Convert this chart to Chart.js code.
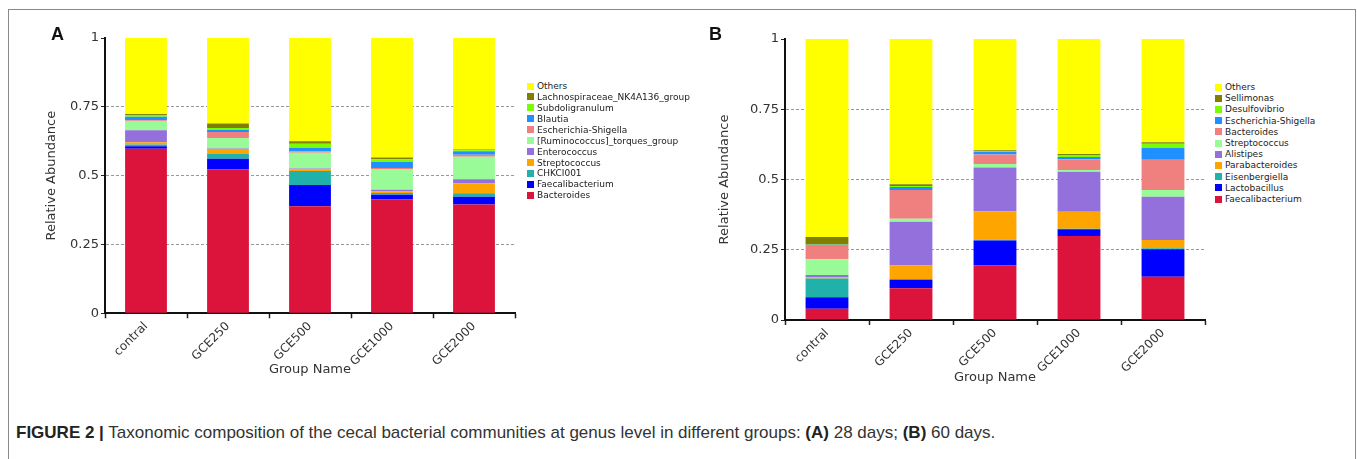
<!DOCTYPE html>
<html>
<head>
<meta charset="utf-8">
<script src="https://cdn.jsdelivr.net/npm/chart.js@4.4.1/dist/chart.umd.min.js"></script>
<style>
  body { margin: 0; background: #fff; width: 1357px; height: 459px; overflow: hidden; position: relative; font-family: 'DejaVu Sans', sans-serif; }
  #frame { position: absolute; left: 8px; top: 9px; width: 1346px; height: 470px; border: 1px solid #8a8a8a; }
  canvas { position: absolute; }
  .tag { position: absolute; font: bold 18px 'Liberation Sans', Arial, sans-serif; color: #111; }
  .legend { position: absolute; font-size: 9px; color: #222; }
  .legend div { position: absolute; left: 0; white-space: nowrap; height: 12px; line-height: 12px; }
  .legend span { display: inline-block; width: 7px; height: 7px; margin-right: 3px; vertical-align: -0.5px; }
  #caption { position: absolute; left: 16px; top: 423px; font: 17px 'Liberation Sans', Arial, sans-serif; color: #333; line-height: 20px; white-space: nowrap; }
  #caption b { color: #222; }
</style>
</head>
<body>
<div id="frame"></div>
<canvas id="chartA" width="520" height="400" style="left:0;top:0"></canvas>
<canvas id="chartB" width="530" height="400" style="left:680px;top:0"></canvas>
<div class="tag" style="left:51px;top:24px">A</div>
<div class="tag" style="left:709px;top:24px">B</div>
<div class="legend" id="legA" style="left:527px;top:80px"></div>
<div class="legend" id="legB" style="left:1215px;top:81px"></div>
<div id="caption"><b>FIGURE 2 |</b> Taxonomic composition of the cecal bacterial communities at genus level in different groups: <b>(A)</b> 28 days; <b>(B)</b> 60 days.</div>
<script>
// Groups and axis labels
const groups = ['contral', 'GCE250', 'GCE500', 'GCE1000', 'GCE2000'];
const yTickLabels = ['0', '0.25', '0.5', '0.75', '1'];

// Colours, bottom of stack to top
const palette = ['#DC143C', '#0000FF', '#20B2AA', '#FFA500', '#9370DB', '#98FB98',
                 '#F08080', '#1E90FF', '#7CFC00', '#808000', '#FFFF00'];

// Panel A (28 days), bottom to top
const taxaA = ['Bacteroides', 'Faecalibacterium', 'CHKCI001', 'Streptococcus', 'Enterococcus',
               '[Ruminococcus]_torques_group', 'Escherichia-Shigella', 'Blautia', 'Subdoligranulum',
               'Lachnospiraceae_NK4A136_group', 'Others'];
const bacteroidesA      = [0.598, 0.522, 0.389, 0.413, 0.395];
const faecalibacteriumA = [0.009, 0.039, 0.077, 0.018, 0.028];
const chkci001A         = [0.006, 0.018, 0.051, 0.006, 0.013];
const streptococcusA    = [0.008, 0.018, 0.005, 0.006, 0.036];
const enterococcusA     = [0.044, 0.002, 0.004, 0.006, 0.015];
const ruminococcusA     = [0.032, 0.038, 0.057, 0.073, 0.082];
const escherichiaA      = [0.004, 0.022, 0.006, 0.006, 0.007];
const blautiaA          = [0.013, 0.008, 0.012, 0.022, 0.013];
const subdoligranulumA  = [0.006, 0.006, 0.015, 0.010, 0.003];
const lachnospiraceaeA  = [0.004, 0.016, 0.009, 0.006, 0.003];
const othersA           = [0.276, 0.311, 0.375, 0.434, 0.405];

// Panel B (60 days), bottom to top
const taxaB = ['Faecalibacterium', 'Lactobacillus', 'Eisenbergiella', 'Parabacteroides', 'Alistipes',
               'Streptococcus', 'Bacteroides', 'Escherichia-Shigella', 'Desulfovibrio', 'Sellimonas', 'Others'];
const faecalibacteriumB = [0.040, 0.113, 0.194, 0.299, 0.154];
const lactobacillusB    = [0.041, 0.030, 0.089, 0.024, 0.098];
const eisenbergiellaB   = [0.067, 0.003, 0.003, 0.002, 0.003];
const parabacteroidesB  = [0.004, 0.048, 0.100, 0.060, 0.030];
const alistipesB        = [0.008, 0.156, 0.157, 0.143, 0.154];
const streptococcusB    = [0.056, 0.010, 0.012, 0.006, 0.024];
const bacteroidesB      = [0.051, 0.103, 0.034, 0.038, 0.107];
const escherichiaB      = [0.001, 0.010, 0.010, 0.008, 0.042];
const desulfovibrioB    = [0.001, 0.004, 0.002, 0.007, 0.015];
const sellimonasB       = [0.026, 0.006, 0.003, 0.004, 0.006];
const othersB           = [0.705, 0.517, 0.396, 0.409, 0.367];

const valuesA = [bacteroidesA, faecalibacteriumA, chkci001A, streptococcusA, enterococcusA, ruminococcusA,
                 escherichiaA, blautiaA, subdoligranulumA, lachnospiraceaeA, othersA];
const valuesB = [faecalibacteriumB, lactobacillusB, eisenbergiellaB, parabacteroidesB, alistipesB, streptococcusB,
                 bacteroidesB, escherichiaB, desulfovibrioB, sellimonasB, othersB];

const tickFont = { family: 'DejaVu Sans', size: 13 };
const titleFont = { family: 'DejaVu Sans', size: 13 };

// Build one stacked bar panel
function buildChart(id, taxa, values, cfg) {
    return new Chart(document.getElementById(id), {
        type: 'bar',
        data: {
            labels: groups,
            datasets: taxa.map((name, i) => ({
                label: name,
                data: values[i],
                backgroundColor: palette[i],
                borderWidth: 0,
                barPercentage: 0.51,
                categoryPercentage: 1
            }))
        },
        options: {
            responsive: false,
            animation: false,
            layout: { padding: { top: cfg.top, right: cfg.right, bottom: 0, left: 0 } },
            plugins: { legend: { display: false }, tooltip: { enabled: false } },
            scales: {
                x: {
                    stacked: true,
                    afterFit: (s) => { s.height = cfg.xAxisHeight; },
                    grid: { drawOnChartArea: false, offset: true, tickLength: 5, tickColor: '#222', tickWidth: 1.5 },
                    border: { color: '#111', width: 2 },
                    ticks: { minRotation: 45, maxRotation: 45, color: '#333', padding: 1,
                             font: { family: 'DejaVu Sans', size: 12 } },
                    title: { display: true, text: 'Group Name', color: '#333', font: titleFont,
                             padding: { top: 0, bottom: cfg.xTitlePad } }
                },
                y: {
                    stacked: true,
                    min: 0,
                    max: 1,
                    afterFit: (s) => { s.width = 105; },
                    grid: {
                        color: (c) => (c.tick && c.tick.value > 0 && c.tick.value < 1) ? '#999' : 'rgba(0,0,0,0)',
                        tickColor: '#222',
                        tickLength: 4,
                        tickBorderDash: []
                    },
                    border: { color: '#111', width: 2, dash: [3, 2] },
                    ticks: { stepSize: 0.25, padding: 2, color: '#333', font: tickFont,
                             callback: (v, i) => yTickLabels[i] },
                    title: { display: true, text: 'Relative Abundance', color: '#333', font: titleFont,
                             padding: { top: cfg.yTitlePad, bottom: 0 } }
                }
            }
        }
    });
}

// HTML legend, top item first
function buildLegend(id, taxa, step) {
    const box = document.getElementById(id);
    for (let i = taxa.length - 1; i >= 0; i--) {
        const row = document.createElement('div');
        row.style.top = ((taxa.length - 1 - i) * step) + 'px';
        row.innerHTML = `<span style="background:${palette[i]}"></span>${taxa[i]}`;
        box.appendChild(row);
    }
}

buildChart('chartA', taxaA, valuesA, { top: 38, right: 5, xAxisHeight: 86.7, xTitlePad: 23, yTitlePad: 44 });
buildChart('chartB', taxaB, valuesB, { top: 39, right: 5, xAxisHeight: 80, xTitlePad: 15, yTitlePad: 37 });
buildLegend('legA', taxaA, 10.93);
buildLegend('legB', taxaB, 11.2);
</script>
</body>
</html>
